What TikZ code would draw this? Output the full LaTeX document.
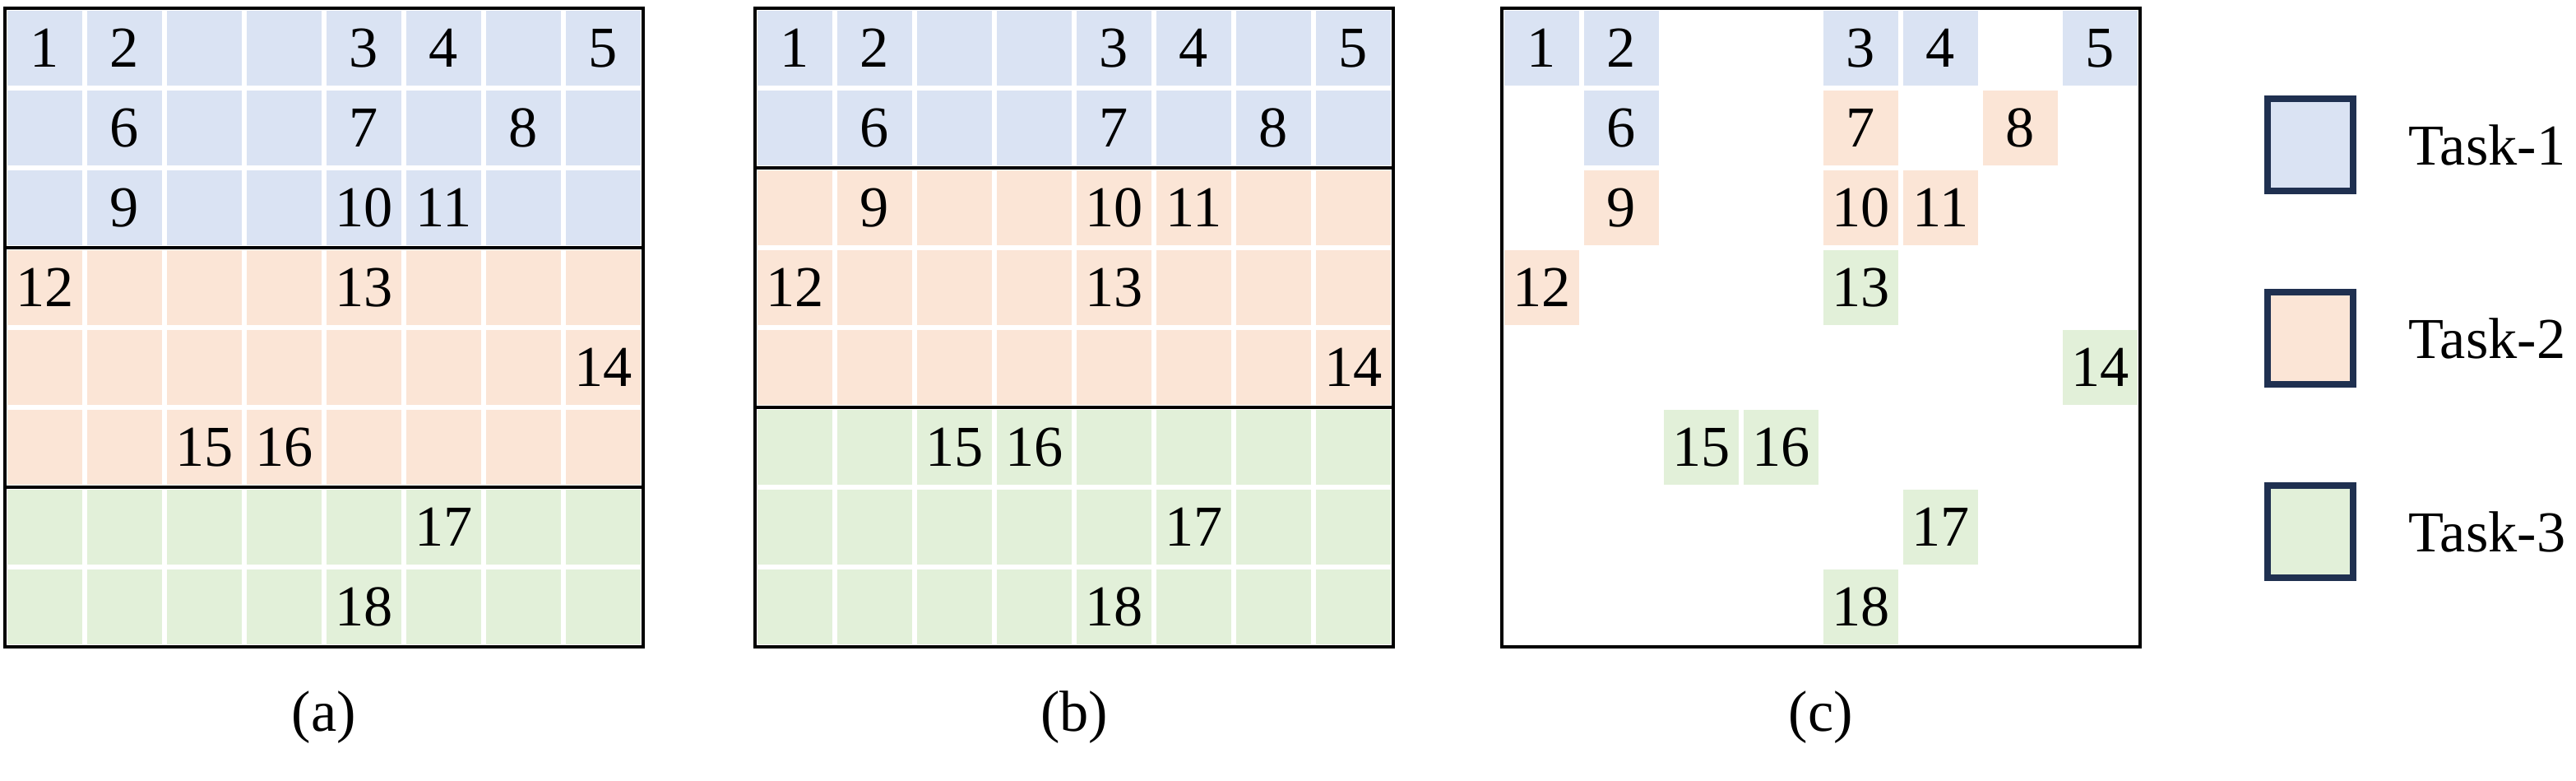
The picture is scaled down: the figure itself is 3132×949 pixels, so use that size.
\documentclass[tikz,border=0pt]{standalone}
\usepackage{fontspec}
\newfontfamily\tnr{Liberation Serif}
\definecolor{tblue}{HTML}{DAE3F3}
\definecolor{torange}{HTML}{FBE5D6}
\definecolor{tgreen}{HTML}{E2F0D9}
\definecolor{navy}{HTML}{1F3050}
\tikzset{
  cell/.style={fill=#1,draw=white,line width=1.5pt},
  num/.style={font=\tnr\fontsize{20}{20}\selectfont,inner sep=0pt},
  frame/.style={draw=black,line width=1.4pt},
  legbox/.style={fill=#1,draw=navy,line width=2.2pt},
}
\begin{document}
\begin{tikzpicture}[x=0.01cm,y=-0.01cm]
        \useasboundingbox (0,0) rectangle (3132,949);

        % (a) and (b): banded grids
        \foreach \px/\na/\nb/\tag in {6/3/6/a,918/2/5/b}{
          \foreach \r in {1,...,8}{
            \foreach \c in {1,...,8}{
              \pgfmathsetmacro{\col}{\r<=\na ? 1 : (\r<=\nb ? 2 : 3)}
              \ifcase\col\or\def\fc{tblue}\or\def\fc{torange}\or\def\fc{tgreen}\fi
              \draw[cell=\fc] (\px+97*\c-97,10+97*\r-97) rectangle ++(97,97);
            }
          }
          \draw[frame] (\px,10) rectangle ++(776,776);
          \draw[frame] (\px,10+97*\na) -- ++(776,0);
          \draw[frame] (\px,10+97*\nb) -- ++(776,0);
          \node[num] (cap-\tag) at (\px+388,872) {(\tag)};
        }

        % (c): only the labelled cells
        \foreach \n/\r/\c/\fc in {1/1/1/tblue,2/1/2/tblue,3/1/5/tblue,4/1/6/tblue,
            5/1/8/tblue,6/2/2/tblue,7/2/5/torange,8/2/7/torange,9/3/2/torange,
            10/3/5/torange,11/3/6/torange,12/4/1/torange,13/4/5/tgreen,
            14/5/8/tgreen,15/6/3/tgreen,16/6/4/tgreen,17/7/6/tgreen,18/8/5/tgreen}{
          \draw[cell=\fc] (1826+97*\c-97,10+97*\r-97) rectangle ++(97,97);
        }
        \draw[frame] (1826,10) rectangle ++(776,776);
        \node[num] (cap-c) at (2214,872) {(c)};

        % numbers in all three panels
        \foreach \px in {6,918,1826}{
          \foreach \n/\r/\c in {1/1/1,2/1/2,3/1/5,4/1/6,5/1/8,6/2/2,7/2/5,8/2/7,
              9/3/2,10/3/5,11/3/6,12/4/1,13/4/5,14/5/8,15/6/3,16/6/4,17/7/6,18/8/5}{
            \node[num] at (\px+97*\c-48.5,10+97*\r-48.5) {\n};
          }
        }

        % legend
        \foreach \i/\fc in {1/tblue,2/torange,3/tgreen}{
          \draw[legbox=\fc] (2757,120+235*\i-235) rectangle ++(104,112);
          \node[num,anchor=west] (task-\i) at (2928,176+235*\i-235) {Task-\i};
        }
    \end{tikzpicture}
\end{document}
